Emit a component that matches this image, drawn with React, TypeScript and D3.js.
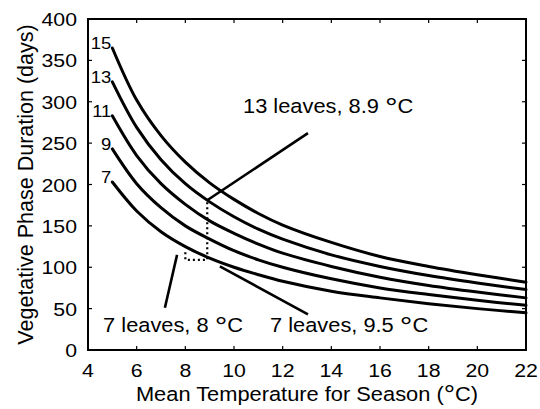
import React from 'react';
import * as d3 from 'd3';

// Mean temperature for season (°C) sampled along each curve
const temps = [5, 6, 7, 8, 9, 10, 11, 12, 14, 16, 18, 20, 22];
// Vegetative phase duration (days) for each final leaf number
const leaves7 = [203, 168, 143, 125, 111, 100, 91, 83, 71, 63, 56, 50, 45];
const leaves9 = [243, 201, 172, 150, 134, 120, 109, 100, 86, 75, 67, 60, 54];
const leaves11 = [283, 235, 201, 176, 156, 141, 128, 117, 101, 88, 78, 70, 63];
const leaves13 = [324, 269, 230, 201, 179, 161, 146, 134, 115, 101, 90, 81, 73];
const leaves15 = [365, 302, 259, 227, 202, 182, 165, 151, 130, 113, 101, 91, 82];
const seriesValues = [leaves7, leaves9, leaves11, leaves13, leaves15];
const seriesLabels = ['7', '9', '11', '13', '15'];

const xTicks = [4, 6, 8, 10, 12, 14, 16, 18, 20, 22];
const yTicks = [0, 50, 100, 150, 200, 250, 300, 350, 400];

// dotted guide (temperature, days)
const guideX = [8, 8, 8.9, 8.9];
const guideY = [118, 109, 109, 181];

// annotation leaders: from point on curve to label
const leaderFrom = [[8.9, 181], [7.66, 115], [9.42, 101]];
const leaderTo = [[13.04, 262], [7.16, 51], [13.04, 43]];
const annotNames = ['13 leaves, 8.9 ', '7 leaves, 8 ', '7 leaves, 9.5 '];
const annotPos = [[10.37, 286], [4.62, 21.8], [11.48, 21.8]];

const W = 540;
const H = 409;
const L = 88, R = 526, T = 19, B = 350;
const FONT = '"Liberation Sans", Arial, Helvetica, sans-serif';
const SX = 1.12;

function Txt({ x, y, size, anchor = 'start', children }: any) {
  return (
    <text
      transform={`translate(${x},${y}) scale(${SX},1)`}
      fontSize={size}
      textAnchor={anchor}
      fontFamily={FONT}
      fill="#000"
    >
      {children}
    </text>
  );
}

function Deg({ size, k = 1.45, d = 4 }: { size: number; k?: number; d?: number }) {
  return (
    <>
      <tspan fontSize={size * k} dy={d}>°</tspan>
      <tspan fontSize={size} dy={-d}>C</tspan>
    </>
  );
}

export default function App() {
  const x = d3.scaleLinear().domain([4, 22]).range([L, R]);
  const y = d3.scaleLinear().domain([0, 400]).range([B, T]);
  const line = d3
    .line<[number, number]>()
    .x((d) => x(d[0]))
    .y((d) => y(d[1]))
    .curve(d3.curveCatmullRom.alpha(0.5));
  const straight = d3
    .line<[number, number]>()
    .x((d) => x(d[0]))
    .y((d) => y(d[1]));

  const guide = guideX.map((gx, i) => [gx, guideY[i]] as [number, number]);

  return (
    <svg
      width={W}
      height={H}
      style={{ position: 'absolute', left: 0, top: 0, background: '#fff' }}
    >
      <rect x={0} y={0} width={W} height={H} fill="#fff" />
      {/* curves */}
      {seriesValues.map((vals, si) => (
        <path
          key={si}
          d={line(temps.map((t, i) => [t, vals[i]] as [number, number])) || ''}
          fill="none"
          stroke="#000"
          strokeWidth={3}
          strokeLinecap="round"
        />
      ))}
      {seriesValues.map((vals, si) => (
        <Txt key={'l' + si} x={x(temps[0]) - 1} y={y(vals[0]) + 1} size={16.5} anchor="end">
          {seriesLabels[si]}
        </Txt>
      ))}
      {/* dotted guide */}
      <path
        d={straight(guide) || ''}
        fill="none"
        stroke="#000"
        strokeWidth={2.2}
        strokeDasharray="2 3"
      />
      {/* leaders */}
      {leaderFrom.map((p, i) => (
        <path
          key={'ld' + i}
          d={straight([p as [number, number], leaderTo[i] as [number, number]]) || ''}
          stroke="#000"
          strokeWidth={2.6}
          fill="none"
        />
      ))}
      {annotNames.map((name, i) => (
        <Txt key={'an' + i} x={x(annotPos[i][0])} y={y(annotPos[i][1])} size={19.5}>
          {name}
          <Deg size={19.5} />
        </Txt>
      ))}
      {/* frame */}
      <rect x={L} y={T} width={R - L} height={B - T} fill="none" stroke="#000" strokeWidth={2} />
      {xTicks.map((t) => (
        <g key={'xt' + t}>
          <line x1={x(t)} x2={x(t)} y1={B} y2={B - 4} stroke="#000" strokeWidth={1.2} />
          <line x1={x(t)} x2={x(t)} y1={T} y2={T + 4} stroke="#000" strokeWidth={1.2} />
          <Txt x={x(t)} y={377} size={19} anchor="middle">
            {String(t)}
          </Txt>
        </g>
      ))}
      {yTicks.map((t) => (
        <g key={'yt' + t}>
          <line x1={L} x2={L + 4} y1={y(t)} y2={y(t)} stroke="#000" strokeWidth={1.2} />
          <line x1={R} x2={R - 4} y1={y(t)} y2={y(t)} stroke="#000" strokeWidth={1.2} />
          <Txt x={77} y={y(t) + 7} size={19} anchor="end">
            {String(t)}
          </Txt>
        </g>
      ))}
      {/* axis titles */}
      <Txt x={(L + R) / 2} y={401} size={19.5} anchor="middle">
        {'Mean Temperature for Season ('}
        <Deg size={19.5} k={1.3} d={2} />
        {')'}
      </Txt>
      <text
        transform={`translate(33,${(T + B) / 2}) rotate(-90)`}
        fontSize={21.5}
        textAnchor="middle"
        fontFamily={FONT}
        fill="#000"
      >
        Vegetative Phase Duration (days)
      </text>
    </svg>
  );
}
